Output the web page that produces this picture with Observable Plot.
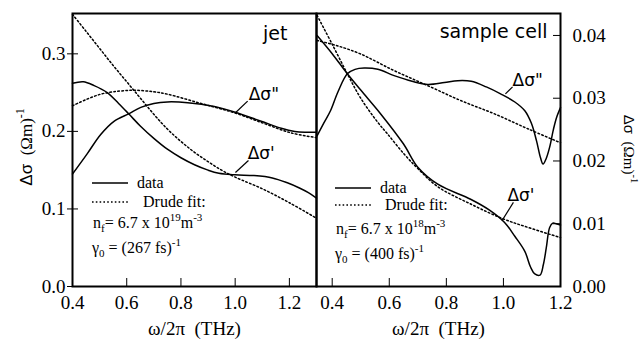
<!DOCTYPE html>
<html><head><meta charset="utf-8">
<script src="https://cdn.jsdelivr.net/npm/d3@7"></script>
<script src="https://cdn.jsdelivr.net/npm/@observablehq/plot@0.6"></script>
<style>
body{margin:0;background:#fff;}
#wrap{position:relative;width:641px;height:343px;background:#fff;overflow:hidden}
#wrap svg{position:absolute;top:0}
#wrap svg text{font-family:"Liberation Serif","DejaVu Serif",serif}
#wrap svg text.sans{font-family:"DejaVu Sans",sans-serif}
#wrap svg tspan.sansT{font-family:"Liberation Sans","DejaVu Sans",sans-serif}
</style></head><body><div id="wrap"></div>
<script>
// ---------- data ----------
const jetXTicks = [0.4, 0.6, 0.8, 1.0, 1.2];
const jetYTicks = [0, 0.1, 0.2, 0.3];
const cellXTicks = [0.4, 0.6, 0.8, 1.0, 1.2];
const cellYTicks = [0, 0.01, 0.02, 0.03, 0.04];

// jet: measured Δσ' (real) and Δσ'' (imag), Drude fits
const jetDataReal = [[0.40,0.262],[0.44,0.264],[0.48,0.259],[0.528,0.250],[0.57,0.236],[0.609,0.222],[0.65,0.207],[0.70,0.191],[0.75,0.177],[0.80,0.166],[0.85,0.157],[0.90,0.150],[0.94,0.146],[1.0,0.144],[1.07,0.143],[1.137,0.140],[1.19,0.134],[1.237,0.127],[1.27,0.121],[1.30,0.114]];
const jetDataImag = [[0.40,0.145],[0.454,0.171],[0.504,0.196],[0.553,0.213],[0.609,0.223],[0.652,0.231],[0.70,0.236],[0.75,0.238],[0.825,0.237],[0.923,0.232],[0.997,0.225],[1.096,0.213],[1.17,0.204],[1.22,0.200],[1.26,0.199],[1.30,0.199]];
const jetFitReal = [[0.40,0.351],[0.45,0.329],[0.50,0.307],[0.55,0.285],[0.60,0.264],[0.65,0.243],[0.70,0.222],[0.75,0.203],[0.80,0.187],[0.85,0.173],[0.90,0.161],[0.95,0.150],[1.0,0.141],[1.1,0.126],[1.2,0.108],[1.3,0.088]];
const jetFitImag = [[0.40,0.233],[0.45,0.241],[0.504,0.248],[0.55,0.251],[0.627,0.253],[0.70,0.251],[0.75,0.248],[0.874,0.236],[0.997,0.224],[1.10,0.211],[1.207,0.198],[1.30,0.192]];

// sample cell
const cellDataReal = [[0.347,0.040],[0.40,0.0371],[0.453,0.0339],[0.50,0.0313],[0.57,0.0275],[0.65,0.0227],[0.70,0.0190],[0.77,0.0163],[0.885,0.0139],[0.95,0.0122],[1.004,0.0102],[1.04,0.0080],[1.075,0.0056],[1.095,0.0031],[1.11,0.0020],[1.128,0.0018],[1.14,0.0035],[1.15,0.0061],[1.162,0.0094],[1.173,0.0101],[1.185,0.0100],[1.20,0.0098]];
const cellDataImag = [[0.347,0.024],[0.37,0.026],[0.394,0.028],[0.42,0.031],[0.453,0.0339],[0.48,0.0346],[0.512,0.0348],[0.56,0.0346],[0.617,0.0336],[0.68,0.0327],[0.735,0.0322],[0.793,0.0325],[0.84,0.0328],[0.887,0.0327],[0.94,0.0318],[0.99,0.0307],[1.04,0.0294],[1.075,0.0280],[1.098,0.0260],[1.116,0.0232],[1.13,0.0205],[1.139,0.0195],[1.15,0.0204],[1.162,0.0222],[1.175,0.0250],[1.186,0.0269],[1.20,0.0285]];
const cellFitReal = [[0.347,0.0432],[0.40,0.0386],[0.453,0.0339],[0.50,0.0300],[0.559,0.0262],[0.594,0.0243],[0.652,0.0211],[0.70,0.0188],[0.77,0.0159],[0.887,0.0131],[0.998,0.0108],[1.087,0.0094],[1.20,0.0078]];
const cellFitImag = [[0.347,0.0392],[0.415,0.0384],[0.497,0.0371],[0.617,0.0344],[0.735,0.0320],[0.852,0.0296],[0.969,0.0275],[1.087,0.0251],[1.20,0.0229]];

// annotations (data units)
const jetAnnot = [{x:1.05, y:0.2405, label:'Δσ"'}, {x:1.046, y:0.165, label:"Δσ'"}];
const jetLeaders = [{x1:1.001, y1:0.224, x2:1.046, y2:0.239}, {x1:1.001, y1:0.147, x2:1.049, y2:0.1625}];
const cellAnnot = [{x:1.032, y:0.0320, label:'Δσ"'}, {x:1.014, y:0.0137, label:"Δσ'"}];
const cellLeaders = [{x1:1.007, y1:0.0307, x2:1.032, y2:0.0318}, {x1:0.995, y1:0.0105, x2:1.035, y2:0.0134}];

const xLabel = "ω/2π\u00a0\u00a0(THz)";

// ---------- drawing ----------
const serif = '"Liberation Serif", "DejaVu Serif", serif';
const solid = {stroke: "black", strokeWidth: 1.5, curve: "catmull-rom"};
const dotted = {stroke: "black", strokeWidth: 1.5, strokeDasharray: "1.6,2.4", curve: "catmull-rom"};
const common = {height: 343, marginTop: 13, marginBottom: 57,
  style: {fontFamily: serif, fontSize: "19px", background: "transparent", overflow: "visible", color: "black"}};

const left = Plot.plot({
  ...common, width: 316, marginLeft: 72, marginRight: 0,
  x: {domain: [0.4, 1.3]}, y: {domain: [0, 0.352]},
  marks: [
    Plot.axisX(jetXTicks, {tickSize: -8, tickFormat: () => "", label: null}),
    Plot.axisX(jetXTicks, {tickSize: 0, tickPadding: 9, tickFormat: d => d.toFixed(1), label: xLabel, labelAnchor: "center", labelArrow: "none", labelOffset: 48}),
    Plot.axisY(jetYTicks, {tickSize: 5, tickPadding: 2, tickFormat: d => d.toFixed(1), label: null}),
    Plot.axisY(jetYTicks, {tickSize: -6, tickFormat: () => "", label: null}),
    Plot.line(jetFitReal, dotted),
    Plot.line(jetFitImag, dotted),
    Plot.line(jetDataReal, solid),
    Plot.line(jetDataImag, solid),
    Plot.link(jetLeaders, {x1: "x1", y1: "y1", x2: "x2", y2: "y2", stroke: "black", strokeWidth: 1.2}),
    Plot.text(jetAnnot, {x: "x", y: "y", text: "label", textAnchor: "start", lineAnchor: "bottom", fontSize: 17, fill: "black", className: "annot"}),
    Plot.text(["jet"], {frameAnchor: "top-right", dx: -29, dy: 13, lineAnchor: "top", fontSize: 19, fill: "black", className: "annot"}),
    Plot.frame({stroke: "black", strokeWidth: 2})
  ]
});

const right = Plot.plot({
  ...common, width: 325, marginLeft: 0, marginRight: 81,
  x: {domain: [0.345, 1.2]}, y: {domain: [0, 0.0435]},
  marks: [
    Plot.axisX(cellXTicks, {tickSize: -8, tickFormat: () => "", label: null}),
    Plot.axisX(cellXTicks, {tickSize: 0, tickPadding: 9, tickFormat: d => d.toFixed(1), label: xLabel, labelAnchor: "center", labelArrow: "none", labelOffset: 48}),
    Plot.axisY(cellYTicks, {anchor: "right", tickSize: -8, tickFormat: () => "", label: null}),
    Plot.axisY(cellYTicks, {anchor: "right", tickSize: 0, tickPadding: 12, tickFormat: d => d.toFixed(2), label: null}),
    Plot.line(cellFitReal, dotted),
    Plot.line(cellFitImag, dotted),
    Plot.line(cellDataReal, solid),
    Plot.line(cellDataImag, solid),
    Plot.link(cellLeaders, {x1: "x1", y1: "y1", x2: "x2", y2: "y2", stroke: "black", strokeWidth: 1.2}),
    Plot.text(cellAnnot, {x: "x", y: "y", text: "label", textAnchor: "start", lineAnchor: "bottom", fontSize: 17, fill: "black", className: "annot"}),
    Plot.text(["sample cell"], {frameAnchor: "top-right", dx: -13, dy: 11, lineAnchor: "top", fontSize: 19, fill: "black", className: "annot"}),
    Plot.frame({stroke: "black", strokeWidth: 2})
  ]
});

const wrap = document.getElementById("wrap");
left.style.left = "0px";
right.style.left = "316px";
wrap.appendChild(left);
wrap.appendChild(right);
// annotation labels in sans
d3.select(wrap).selectAll("g.annot text").classed("sans", true);

// overlay for legends and axis titles (page coordinates)
const ov = d3.select(wrap).append("svg")
  .attr("width", 641).attr("height", 343)
  .style("left", "0px").style("pointer-events", "none");

function legend(g, x0, yData, yFit, xData, xFit, yN, yG, nExp, tau) {
  g.append("line").attr("x1", x0).attr("x2", x0 + 36).attr("y1", yData).attr("y2", yData)
    .attr("stroke", "black").attr("stroke-width", 1.4);
  g.append("text").attr("x", xData).attr("y", yData + 5).text("data");
  g.append("line").attr("x1", x0).attr("x2", x0 + 36).attr("y1", yFit).attr("y2", yFit)
    .attr("stroke", "black").attr("stroke-width", 1.4).attr("stroke-dasharray", "1.6,2.2");
  g.append("text").attr("x", xFit).attr("y", yFit + 5).text("Drude fit:");
  const n = g.append("text").attr("x", x0 + 1).attr("y", yN);
  n.append("tspan").text("n");
  n.append("tspan").attr("dy", 4).attr("font-size", 11).text("f");
  n.append("tspan").attr("dy", -4).text("= 6.7 x 10");
  n.append("tspan").attr("dy", -7).attr("font-size", 11).text(nExp);
  n.append("tspan").attr("dy", 7).text("m");
  n.append("tspan").attr("dy", -7).attr("font-size", 11).text("-3");
  const gm = g.append("text").attr("x", x0).attr("y", yG);
  gm.append("tspan").text("γ");
  gm.append("tspan").attr("dy", 4).attr("font-size", 11).text("0");
  gm.append("tspan").attr("dy", -4).text(" = (" + tau + " fs)");
  gm.append("tspan").attr("dy", -7).attr("font-size", 11).text("-1");
}
const lg = ov.append("g").attr("font-size", 16).attr("fill", "black");
legend(lg, 92, 183, 202, 137, 143, 228, 253, "19", "267");
legend(lg, 335, 188, 205, 380, 385, 234, 259, "18", "400");

function yTitle(x, y, angle, size) {
  const t = ov.append("text").attr("transform", `translate(${x},${y}) rotate(${angle})`)
    .attr("text-anchor", "middle").attr("font-size", size).attr("fill", "black");
  t.append("tspan").attr("class", "sansT").text("Δσ");
  t.append("tspan").text("\u00a0\u00a0(Ωm)");
  t.append("tspan").attr("dy", -size * 0.45).attr("font-size", size * 0.7).text("-1");
}
yTitle(32, 147, -90, 17);
yTitle(624, 149, 90, 15);
</script></body></html>
